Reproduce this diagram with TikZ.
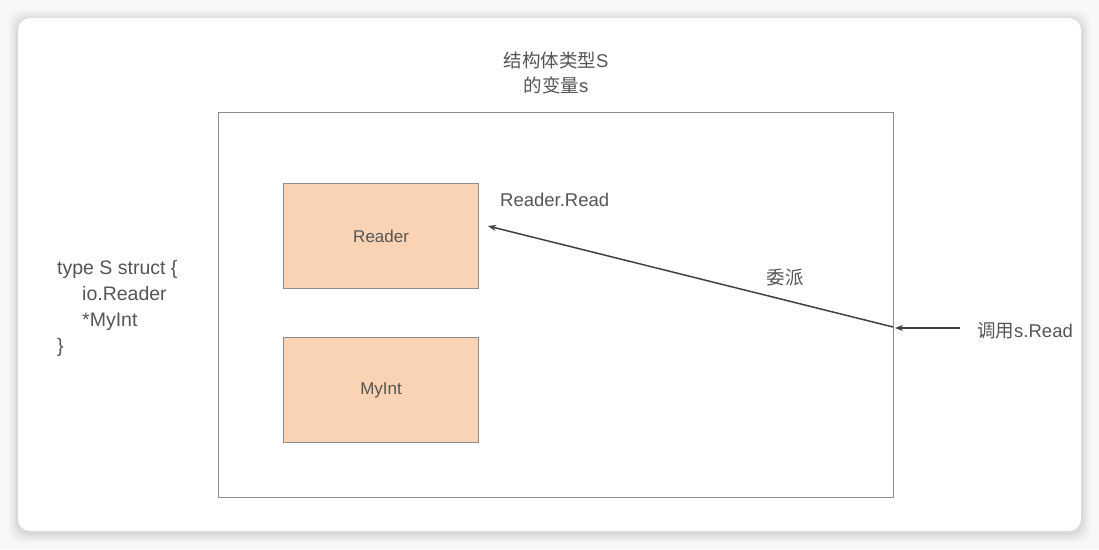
\documentclass[tikz,border=0pt]{standalone}
\usepackage{fontspec}
\setmainfont{Liberation Sans}
\newfontfamily\cjk{Noto Sans CJK SC}
\usetikzlibrary{arrows.meta}
\definecolor{bg}{HTML}{F8F8F8}
\definecolor{peach}{HTML}{F9D3B4}
\definecolor{edge}{HTML}{8C8C8C}
\definecolor{txt}{HTML}{555555}
\definecolor{arr}{HTML}{404040}
\tikzset{
  box/.style={draw=edge, line width=1.2pt, fill=peach, minimum width=195pt, minimum height=105pt, inner sep=0pt, text=txt, font=\fontsize{17}{20}\selectfont},
  lbl/.style={text=txt, inner sep=0pt, font=\fontsize{18.5}{22}\selectfont},
  conn/.style={draw=arr, line width=1.5pt, -{Stealth[length=8pt,width=6pt]}}
}
\begin{document}
\begin{tikzpicture}[x=1pt,y=-1pt]
\useasboundingbox (0,0) rectangle (1099,549);
\fill[bg] (0,0) rectangle (1099,549);
% shadow
\foreach \i/\o in {10/0.015,8/0.02,6/0.025,4/0.03,2/0.035}{
  \fill[black,opacity=\o,rounded corners=14pt] (18-\i,18-\i+2) rectangle (1081+\i,531+\i+2);
}
\fill[white,rounded corners=12pt] (18,18) rectangle (1081,531);
% outer struct box
\node[draw=edge, line width=1.2pt, minimum width=675pt, minimum height=385pt, inner sep=0pt, anchor=north west] (outer) at (218,112) {};
\node[box, anchor=north west] (reader) at (283,183) {Reader};
\node[box, anchor=north west] (myint) at (283,337) {MyInt};
\node[lbl, align=center] (title) at (556,73) {{\cjk 结构体类型}S\\[3pt]{\cjk 的变量}s};
\node[lbl, anchor=west] (rr) at (500,200) {Reader.Read};
\node[lbl] (wp) at (785,278) {\cjk 委派};
\node[lbl, anchor=west] (call) at (977,331) {{\cjk 调用}s.Read};
\node[lbl, anchor=north west, align=left, font=\fontsize{19.5}{26}\selectfont] (code) at (57,260) {type S struct \{\\\hspace*{25pt}io.Reader\\\hspace*{25pt}*MyInt\\\}};
\coordinate (hit) at (893,327);
\coordinate (tgt) at (488,226);
\coordinate (src) at (960,328);
\coordinate (hit2) at (895,328);
\draw[conn] (hit) -- (tgt);
\draw[conn] (src) -- (hit2);
\end{tikzpicture}
\end{document}
